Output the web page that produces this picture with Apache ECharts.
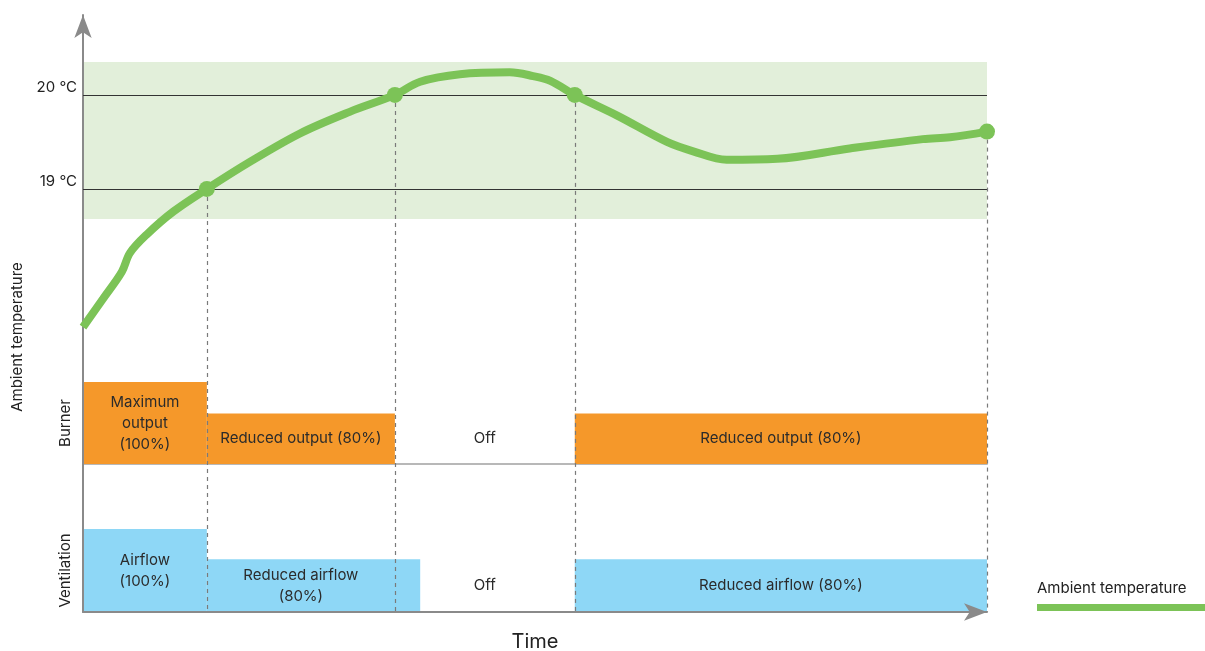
<!DOCTYPE html>
<html>
<head>
<meta charset="utf-8">
<script src="https://cdn.jsdelivr.net/npm/echarts@6/dist/echarts.min.js"></script>
<style>
    html, body { margin: 0; padding: 0; background: #fff; }
    #chart { width: 1205px; height: 651px; }
</style>
</head>
<body>
<div id="chart"></div>
<script>
// temperature curve (time in % of the cycle, °C)
const curveTime = [0, 2.2, 4.3, 5.2, 7.1, 10.0, 13.7, 18.5, 24.0, 29.5, 34.5, 37.3, 41.7, 47.2, 49.8, 51.7, 54.4, 59.1, 64.6, 67.5, 71.2, 76.8, 84.8, 92.9, 95.9, 100];
const curveTemp = [17.53, 17.83, 18.12, 18.32, 18.52, 18.76, 19.00, 19.29, 19.59, 19.82, 20.00, 20.14, 20.22, 20.24, 20.20, 20.15, 20.00, 19.78, 19.50, 19.40, 19.31, 19.32, 19.43, 19.53, 19.55, 19.61];

// switching points on the curve
const eventTime = [13.7, 34.5, 54.4, 100];
const eventTemp = [19, 20, 20, 19.61];

// comfort band and threshold lines
const bandTemp = [18.68, 20.35];
const thresholds = [19, 20];

// phases
const phaseEdges = [0, 13.7, 34.5, 54.4, 100];
const burnerLevel = [100, 80, 0, 80];
const burnerEnd = [13.7, 34.5, 54.4, 100];
const burnerText = ['Maximum\noutput\n(100%)', 'Reduced output (80%)', 'Off', 'Reduced output (80%)'];
const ventLevel = [100, 80, 0, 80];
const ventEnd = [13.7, 37.3, 54.4, 100];
const ventText = ['Airflow\n(100%)', 'Reduced airflow\n(80%)', 'Off', 'Reduced airflow (80%)'];

const FONT = 'Inter, "Noto Sans", sans-serif';
const GREEN = '#7cc357';
const BURNER_MIN = 48;
const VENT_MIN = 45;

const rowData = (levels, ends) => levels.map((lvl, i) => [phaseEdges[i], phaseEdges[i + 1], lvl, ends[i]]);

const rowRender = (texts, floor) => (params, api) => {
    const s = api.value(0), e = api.value(1), lvl = api.value(2), be = api.value(3);
    const base = api.coord([s, floor]);
    const top = api.coord([be, lvl > 0 ? lvl : floor]);
    // "Off" text sits where an 80% bar label would be
    const mid = api.coord([(s + e) / 2, (floor + (lvl > 0 ? lvl : 80)) / 2]);
    const children = [];
    if (lvl > 0) {
        children.push({
            type: 'rect',
            shape: { x: base[0], y: top[1], width: top[0] - base[0], height: base[1] - top[1] },
            style: { fill: api.visual('color') }
        });
    }
    children.push({
        type: 'text',
        x: mid[0], y: mid[1],
        style: {
            text: texts[params.dataIndex], textAlign: 'center', textVerticalAlign: 'middle',
            fontSize: 15, lineHeight: 21, fontFamily: FONT, fill: '#2b2b2b'
        }
    });
    return { type: 'group', children };
};

const hiddenY = (idx, min, name) => ({
    gridIndex: idx, type: 'value', min: min, max: 100,
    name: name, nameLocation: 'middle', nameGap: 10,
    nameTextStyle: { fontSize: 15, color: '#222', fontFamily: FONT },
    axisLine: { show: false }, axisTick: { show: false }, axisLabel: { show: false }, splitLine: { show: false }
});

const chart = echarts.init(document.getElementById('chart'));
chart.setOption({
    animation: false,
    grid: [
        { left: 83, right: 218, top: 15, bottom: 39, outerBoundsMode: 'none' },
        { left: 83, right: 218, top: 382, height: 82, outerBoundsMode: 'none' },
        { left: 83, right: 218, top: 529, height: 83, outerBoundsMode: 'none' }
    ],
    xAxis: [
        {
            gridIndex: 0, type: 'value', min: 0, max: 100, z: 3,
            name: 'Time', nameLocation: 'middle', nameGap: 20,
            nameTextStyle: { fontSize: 20, color: '#222', fontFamily: FONT },
            axisLine: { lineStyle: { color: '#8a8a8a', width: 2 }, symbol: ['none', 'arrow'], symbolSize: [13, 23], symbolOffset: [0, 0] },
            axisTick: { show: false }, axisLabel: { show: false }, splitLine: { show: false }
        },
        {
            gridIndex: 1, type: 'value', min: 0, max: 100,
            axisLine: { lineStyle: { color: '#b8b8b8', width: 2 } },
            axisTick: { show: false }, axisLabel: { show: false }, splitLine: { show: false }
        },
        { gridIndex: 2, type: 'value', min: 0, max: 100, show: false }
    ],
    yAxis: [
        {
            gridIndex: 0, type: 'value', min: 14.5, max: 20.85, z: 3,
            axisLine: { show: true, lineStyle: { color: '#8a8a8a', width: 2 }, symbol: ['none', 'arrow'], symbolSize: [13, 23], symbolOffset: [0, 0] },
            axisTick: { show: false }, splitLine: { show: false },
            axisLabel: {
                customValues: thresholds, formatter: '{value} °C', margin: 6,
                verticalAlign: 'bottom', color: '#222', fontSize: 15, fontFamily: FONT
            }
        },
        hiddenY(1, BURNER_MIN, 'Burner'),
        hiddenY(2, VENT_MIN, 'Ventilation')
    ],
    graphic: [
        {
            type: 'text', x: 17, y: 337, rotation: Math.PI / 2,
            style: { text: 'Ambient temperature', textAlign: 'center', textVerticalAlign: 'middle', fontSize: 15, fontFamily: FONT, fill: '#222' }
        },
        {
            type: 'text', x: 1037, y: 588,
            style: { text: 'Ambient temperature', textAlign: 'left', textVerticalAlign: 'middle', fontSize: 15, fontFamily: FONT, fill: '#222' }
        },
        { type: 'rect', shape: { x: 1037, y: 604, width: 168, height: 7 }, style: { fill: GREEN } }
    ],
    series: [
        {
            type: 'line', xAxisIndex: 0, yAxisIndex: 0, data: [], z: 0,
            markArea: {
                silent: true,
                itemStyle: { color: '#e2efda' },
                data: [[{ xAxis: 0, yAxis: bandTemp[0] }, { xAxis: 100.2, yAxis: bandTemp[1] }]]
            }
        },
        {
            type: 'line', xAxisIndex: 0, yAxisIndex: 0, data: [], z: 1,
            markLine: {
                silent: true, symbol: 'none', label: { show: false },
                lineStyle: { color: '#333', width: 1.2, type: 'solid' },
                data: thresholds.map(v => ({ yAxis: v }))
            }
        },
        {
            name: 'Burner', type: 'custom', xAxisIndex: 1, yAxisIndex: 1, z: 2,
            itemStyle: { color: '#f5982a' },
            data: rowData(burnerLevel, burnerEnd),
            renderItem: rowRender(burnerText, BURNER_MIN)
        },
        {
            name: 'Ventilation', type: 'custom', xAxisIndex: 2, yAxisIndex: 2, z: 2,
            itemStyle: { color: '#8ed7f6' },
            data: rowData(ventLevel, ventEnd),
            renderItem: rowRender(ventText, VENT_MIN)
        },
        {
            name: 'Ambient temperature', type: 'line', xAxisIndex: 0, yAxisIndex: 0, z: 5,
            smooth: 0.35, symbol: 'none',
            lineStyle: { color: GREEN, width: 8 },
            data: curveTime.map((t, i) => [t, curveTemp[i]])
        },
        {
            type: 'scatter', xAxisIndex: 0, yAxisIndex: 0, z: 6,
            symbolSize: 16, itemStyle: { color: GREEN, opacity: 1 },
            data: eventTime.map((t, i) => [t, eventTemp[i]]),
            markLine: {
                silent: true, symbol: 'none', label: { show: false },
                lineStyle: { color: '#7a7a7a', width: 1.2, type: [4, 4] },
                data: eventTime.map((t, i) => [{ coord: [t, eventTemp[i]] }, { coord: [t, 14.5] }])
            }
        }
    ]
});
</script>
</body>
</html>
